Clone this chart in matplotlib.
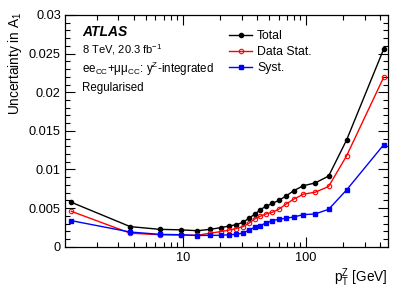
import matplotlib
matplotlib.use("Agg")
import matplotlib.pyplot as plt
from matplotlib.ticker import FixedLocator, NullFormatter, MultipleLocator, FuncFormatter

plt.rcParams["font.family"] = ["Liberation Sans", "DejaVu Sans"]
plt.rcParams["mathtext.fontset"] = "custom"
plt.rcParams["mathtext.rm"] = "Liberation Sans"
plt.rcParams["mathtext.it"] = "Liberation Sans:italic"

# bin centres in pT^Z [GeV]
pt = [1.25, 3.75, 6.5, 9.7, 13.15, 16.7, 20.25, 23.75, 27.25, 30.8, 34.5, 38.4,
      42.65, 47.55, 53.3, 60.15, 68.65, 79.4, 95.2, 118.5, 152.5, 213.0, 426.5]

total = [5.75, 2.60, 2.25, 2.18, 2.07, 2.25, 2.46, 2.68, 2.85, 3.16, 3.70, 4.20,
         4.80, 5.25, 5.60, 6.00, 6.55, 7.25, 7.90, 8.25, 9.15, 13.80, 25.60]
stat = [4.58, 1.75, 1.55, 1.50, 1.48, 1.75, 1.95, 2.15, 2.35, 2.60, 3.05, 3.60,
        3.95, 4.25, 4.45, 4.85, 5.50, 6.15, 6.80, 7.05, 7.80, 11.75, 21.95]
syst = [3.37, 1.90, 1.60, 1.55, 1.45, 1.47, 1.47, 1.55, 1.60, 1.77, 2.16, 2.51,
        2.72, 3.10, 3.37, 3.55, 3.68, 3.85, 4.15, 4.24, 4.84, 7.34, 13.20]

scale = 1e-3
fig = plt.figure(figsize=(4.09, 2.94), dpi=100)
ax = fig.add_axes([65 / 409, 1 - 246.7 / 294, 323 / 409, 231.7 / 294])

ax.plot(pt, [v * scale for v in total], color="black", lw=1.0, marker="o",
        ms=3.0, label="Total")
ax.plot(pt, [v * scale for v in stat], color="#ff0000", lw=1.0, marker="o",
        ms=3.2, mfc="none", mew=0.8, label="Data Stat.")
ax.plot(pt, [v * scale for v in syst], color="#0000ff", lw=1.0, marker="s",
        ms=3.2, label="Syst.")

ax.set_xscale("log")
ax.set_xlim(1.11, 462)
ax.set_ylim(0, 0.03)

ax.xaxis.set_major_locator(FixedLocator([10, 100]))
ax.xaxis.set_major_formatter(FuncFormatter(lambda v, p: "%d" % v))
minors = [m * 10 ** e for e in range(0, 3) for m in range(2, 10)]
ax.xaxis.set_minor_locator(FixedLocator(minors))
ax.xaxis.set_minor_formatter(NullFormatter())
ax.yaxis.set_major_locator(MultipleLocator(0.005))
ax.yaxis.set_minor_locator(MultipleLocator(0.001))
ax.yaxis.set_major_formatter(FuncFormatter(lambda v, p: ("%g" % round(v, 4))))

ax.tick_params(which="both", direction="in", top=True, right=True, labelsize=9.2,
               width=0.8, colors="black")
ax.tick_params(which="major", length=7)
ax.tick_params(which="minor", length=3.5)
ax.tick_params(axis="x", pad=4)
ax.tick_params(axis="y", pad=3)
for s in ax.spines.values():
    s.set_linewidth(0.9)

fig.text(15 / 409, 1 - 12 / 294, r"Uncertainty in A$_1$", rotation=90,
         ha="center", va="top", fontsize=9.8)
fig.text(388 / 409, 1 - 278 / 294, r"p$_\mathregular{T}^\mathregular{Z}$ [GeV]",
         ha="right", va="center", fontsize=9.8)

fig.text(82 / 409, 1 - 32 / 294, "ATLAS", fontsize=10, fontweight="bold",
         fontstyle="italic", va="center")
fig.text(82 / 409, 1 - 50 / 294, r"8 TeV, 20.3 fb$^{-1}$", fontsize=8, va="center")
fig.text(82 / 409, 1 - 69 / 294,
         r"ee$_\mathregular{CC}$+$\mathregular{\mu\mu}_\mathregular{CC}$: y$^\mathregular{Z}$-integrated",
         fontsize=8.4, va="center")
fig.text(82 / 409, 1 - 88 / 294, "Regularised", fontsize=8.3, va="center")

ax.legend(loc="upper left", bbox_to_anchor=(229 / 409, 1 - 30 / 294),
          bbox_transform=fig.transFigure, frameon=False, fontsize=8.8,
          handlelength=1.9, handletextpad=0.4, labelspacing=0.32,
          borderpad=0, borderaxespad=0)

fig.savefig("out.png", dpi=100)
